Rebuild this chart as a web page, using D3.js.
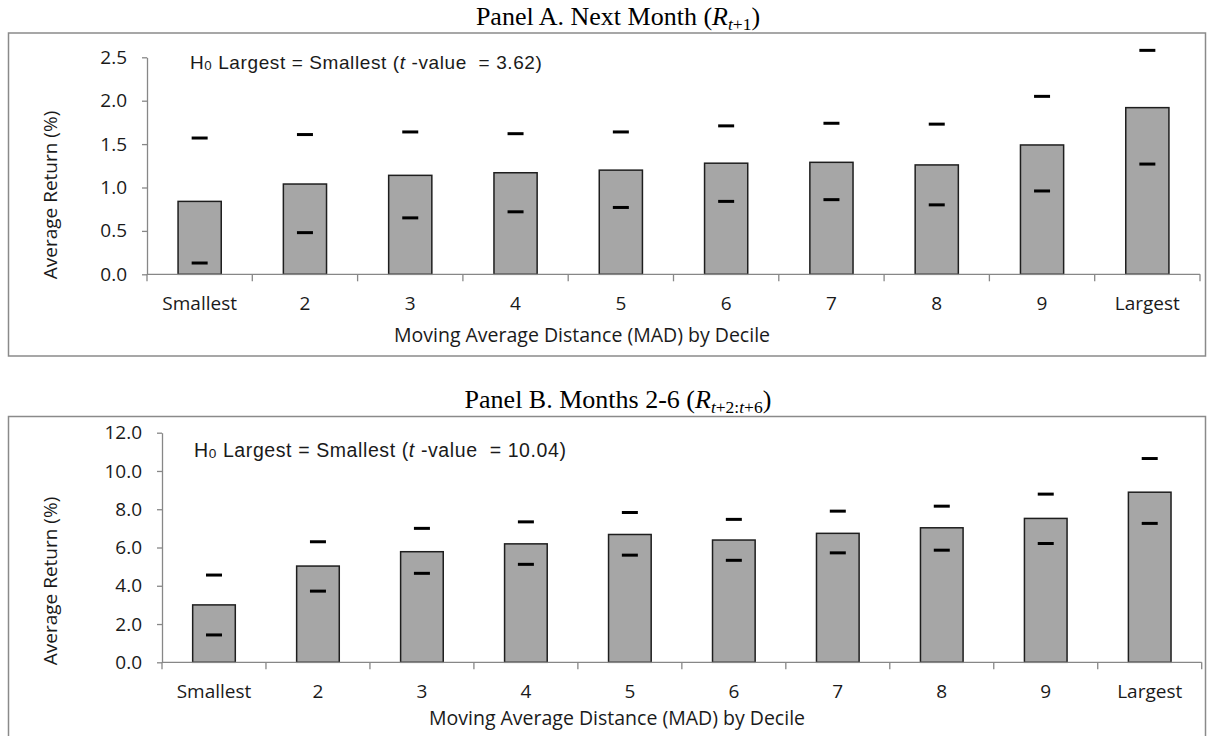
<!DOCTYPE html>
<html>
<head>
<meta charset="utf-8">
<script src="https://cdn.jsdelivr.net/npm/d3@7"></script>
<style>
  html, body { margin: 0; padding: 0; background: #fff; }
  svg { display: block; }
  text { white-space: pre; }
</style>
</head>
<body>
<svg id="chart" width="1210" height="736"></svg>
<script>
// ---- Data ----
const categories = ["Smallest", "2", "3", "4", "5", "6", "7", "8", "9", "Largest"];

const panelAMean = [0.84, 1.04, 1.14, 1.17, 1.20, 1.28, 1.29, 1.26, 1.49, 1.92];
const panelALow  = [0.13, 0.48, 0.65, 0.72, 0.77, 0.84, 0.86, 0.80, 0.96, 1.27];
const panelAHigh = [1.57, 1.61, 1.64, 1.62, 1.64, 1.71, 1.74, 1.73, 2.05, 2.58];
const panelATicks = [0, 0.5, 1.0, 1.5, 2.0, 2.5];
const panelATValue = "3.62";

const panelBMean = [3.00, 5.03, 5.78, 6.19, 6.68, 6.39, 6.74, 7.03, 7.52, 8.89];
const panelBLow  = [1.43, 3.72, 4.65, 5.12, 5.60, 5.33, 5.72, 5.86, 6.21, 7.26];
const panelBHigh = [4.56, 6.30, 7.00, 7.34, 7.83, 7.47, 7.90, 8.16, 8.79, 10.65];
const panelBTicks = [0, 2, 4, 6, 8, 10, 12];
const panelBTValue = "10.04";

const xTitle = "Moving Average Distance (MAD) by Decile";
const yTitle = "Average Return (%)";

// ---- Drawing ----
const svg = d3.select("#chart");
svg.append("rect").attr("width", 1210).attr("height", 736).attr("fill", "#fff");

const sansFont = "'Open Sans', sans-serif";
const axisColor = "#878787";
const textColor = "#1a1a1a";

function drawPanel(p) {
  const g = svg.append("g");

  // frame
  g.append("rect")
    .attr("x", 8.5).attr("y", p.frameTop)
    .attr("width", 1197).attr("height", p.frameH)
    .attr("fill", "none").attr("stroke", "#8a8a8a").attr("stroke-width", 1.5);

  // title
  const t = svg.append("text")
    .attr("x", 618).attr("y", p.titleY)
    .attr("text-anchor", "middle")
    .attr("font-family", "'Liberation Serif', 'Times New Roman', serif")
    .attr("font-size", 26).attr("fill", "#000");
  t.append("tspan").text(p.titleMain + " (");
  t.append("tspan").attr("font-style", "italic").text("R");
  const sub = t.append("tspan").attr("font-size", 17.5).attr("dy", 5);
  p.subParts.forEach(s => {
    sub.append("tspan").attr("font-style", s.i ? "italic" : "normal").text(s.t);
  });
  t.append("tspan").attr("dy", -5).text(")");

  const y = d3.scaleLinear().domain([0, p.max]).range([p.y0, p.y1]);
  const xb = d3.scaleBand().domain(categories).range([p.x0, p.x1])
    .paddingInner(0.59).paddingOuter(0.295);
  const xs = d3.scaleBand().domain(categories).range([p.x0, p.x1]).padding(0);
  const bw = xb.bandwidth();

  // y axis
  const ya = g.append("g").attr("transform", `translate(${p.x0},0)`)
    .call(d3.axisLeft(y).tickValues(p.ticks).tickFormat(d3.format(".1f"))
      .tickSize(5).tickSizeOuter(0).tickPadding(15));
  ya.selectAll("path, line").attr("stroke", axisColor).attr("stroke-width", 1.3);
  ya.selectAll("text").attr("font-family", sansFont).attr("font-size", 19).attr("fill", textColor);

  // bars
  p.mean.forEach((v, i) => {
    const c = categories[i];
    g.append("rect")
      .attr("x", xb(c)).attr("y", y(v))
      .attr("width", bw).attr("height", y(0) - y(v))
      .attr("fill", "#a6a6a6").attr("stroke", "#1e1e1e").attr("stroke-width", 1.5);
  });

  // x axis line + ticks
  g.append("line").attr("x1", p.x0).attr("x2", p.x1).attr("y1", y(0)).attr("y2", y(0))
    .attr("stroke", axisColor).attr("stroke-width", 1.3);
  const tickXs = categories.map(c => xs(c)).concat([p.x1]);
  tickXs.forEach(tx => {
    g.append("line").attr("x1", tx).attr("x2", tx).attr("y1", y(0)).attr("y2", y(0) + 7)
      .attr("stroke", axisColor).attr("stroke-width", 1.3);
  });
  categories.forEach(c => {
    g.append("text").attr("x", xb(c) + bw / 2).attr("y", y(0) + 36)
      .attr("text-anchor", "middle").attr("font-family", sansFont).attr("font-size", 19)
      .attr("fill", textColor).text(c);
  });

  // high / low markers
  [p.low, p.high].forEach(arr => {
    arr.forEach((v, i) => {
      const cx = xb(categories[i]) + bw / 2;
      g.append("line").attr("x1", cx - 8).attr("x2", cx + 8).attr("y1", y(v)).attr("y2", y(v))
        .attr("stroke", "#000").attr("stroke-width", 3);
    });
  });

  // annotation
  const a = g.append("text").attr("x", p.annX).attr("y", p.annY)
    .attr("font-family", "'Liberation Sans', Arial, sans-serif")
    .attr("font-size", p.annSize).attr("letter-spacing", 0.6).attr("fill", "#1a1a1a");
  a.append("tspan").text("H");
  a.append("tspan").attr("font-size", p.annSize * 0.7).attr("dy", 1).text("0");
  a.append("tspan").attr("dy", -1).text(" Largest = Smallest (");
  a.append("tspan").attr("font-style", "italic").text("t");
  a.append("tspan").text(" -value  = " + p.tval + ")");

  // axis titles
  g.append("text").attr("x", p.xTitleX).attr("y", p.xTitleY)
    .attr("text-anchor", "middle").attr("font-family", sansFont).attr("font-size", 19.5)
    .attr("fill", textColor).text(xTitle);
  g.append("text")
    .attr("transform", `translate(57,${p.yTitleY}) rotate(-90)`)
    .attr("text-anchor", "middle").attr("font-family", sansFont).attr("font-size", 19)
    .attr("fill", textColor).text(yTitle);
}

drawPanel({
  frameTop: 33, frameH: 323, titleY: 25,
  titleMain: "Panel A. Next Month",
  subParts: [{t: "t", i: true}, {t: "+1", i: false}],
  max: 2.5, y0: 274.3, y1: 57.3, x0: 147, x1: 1200,
  ticks: panelATicks, mean: panelAMean, low: panelALow, high: panelAHigh,
  annX: 190, annY: 69, annSize: 19, tval: panelATValue,
  xTitleX: 582, xTitleY: 342, yTitleY: 195
});

drawPanel({
  frameTop: 416.5, frameH: 340, titleY: 408,
  titleMain: "Panel B. Months 2-6",
  subParts: [{t: "t", i: true}, {t: "+2:", i: false}, {t: "t", i: true}, {t: "+6", i: false}],
  max: 12, y0: 662.3, y1: 432.7, x0: 162, x1: 1201.7,
  ticks: panelBTicks, mean: panelBMean, low: panelBLow, high: panelBHigh,
  annX: 194, annY: 457, annSize: 19.5, tval: panelBTValue,
  xTitleX: 617, xTitleY: 725, yTitleY: 581
});
</script>
</body>
</html>
